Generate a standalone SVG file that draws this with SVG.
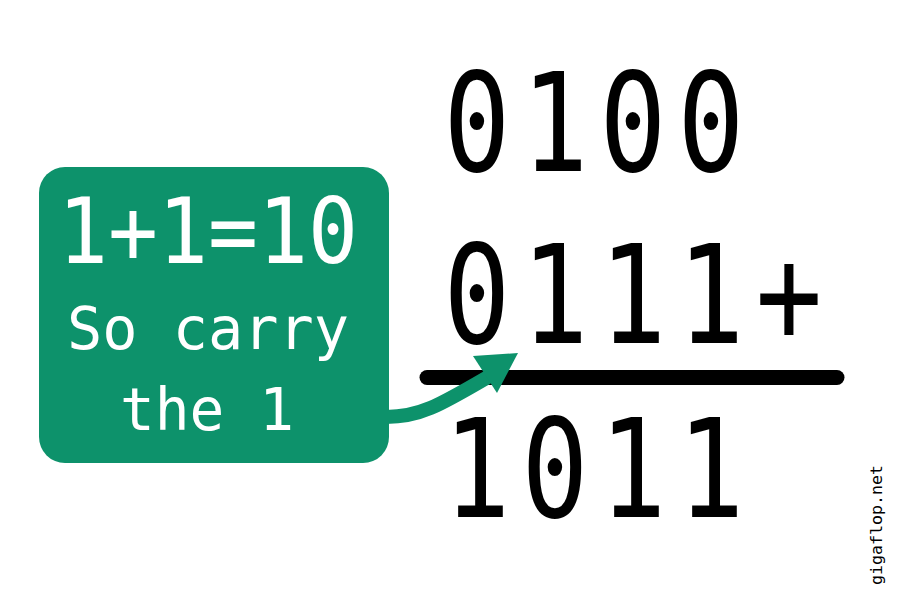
<svg xmlns="http://www.w3.org/2000/svg" width="900" height="600" viewBox="0 0 900 600">
<style>
.big{font-family:"DejaVu Sans Mono","Liberation Mono",monospace;font-size:137px;fill:#000;letter-spacing:13.8px}
.lbl{font-family:"DejaVu Sans Mono","Liberation Mono",monospace;fill:#fff;text-anchor:middle}
.wm{font-family:"DejaVu Sans Mono","Liberation Mono",monospace;font-size:16px;fill:#000;text-anchor:middle}
</style>
<rect width="900" height="600" fill="#fff"/>
<g id="sum">
<text class="big" transform="translate(443.5,171) scale(0.81,1)">0100</text>
<text class="big" transform="translate(443.5,343) scale(0.81,1)">0111+</text>
<line x1="427" y1="377.5" x2="837" y2="377.5" stroke="#000" stroke-width="15" stroke-linecap="round"/>
<text class="big" transform="translate(443.5,517) scale(0.81,1)">1011</text>
</g>
<g id="note">
<rect x="39" y="167" width="350" height="296" rx="26" fill="#0d926b"/>
<text class="lbl" x="208" y="263" font-size="90" textLength="300" lengthAdjust="spacingAndGlyphs">1+1=10</text>
<text class="lbl" x="208" y="349" font-size="58" textLength="282" lengthAdjust="spacingAndGlyphs">So carry</text>
<text class="lbl" x="207" y="430" font-size="58" textLength="174" lengthAdjust="spacingAndGlyphs">the 1</text>
</g>
<g id="connectors">
<path d="M 386 417 C 420 417 440 405 488 377" fill="none" stroke="#0d926b" stroke-width="14"/>
<polygon points="518,353 473,356 497,393" fill="#0d926b"/>
</g>
<text class="wm" transform="translate(882,525) rotate(-90)" textLength="120" lengthAdjust="spacingAndGlyphs">gigaflop.net</text>
</svg>
